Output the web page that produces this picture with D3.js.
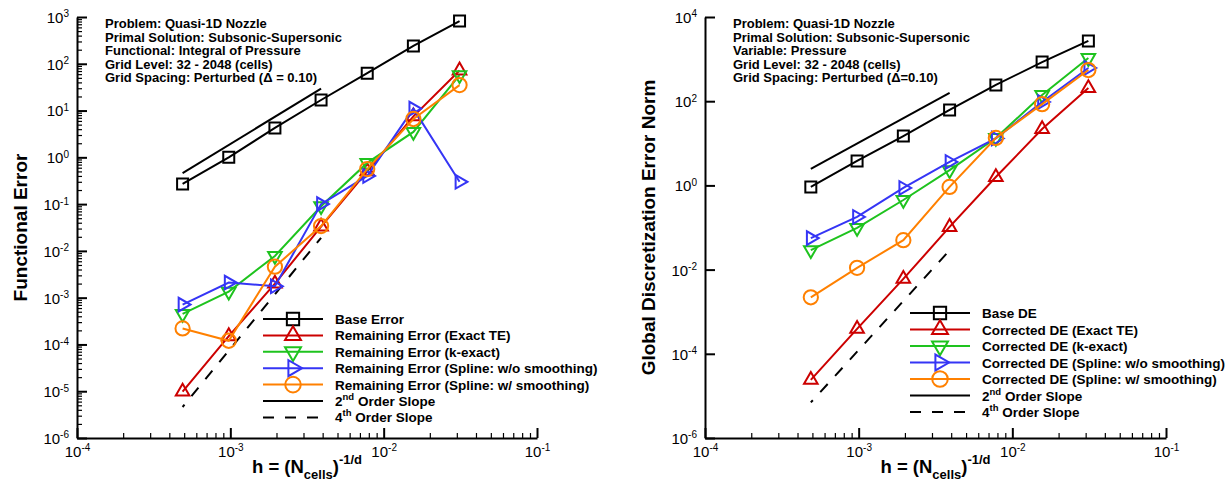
<!DOCTYPE html>
<html>
<head>
<meta charset="utf-8">
<script src="https://cdn.jsdelivr.net/npm/d3@7"></script>
<style>
body { margin: 0; background: #fff; }
text { font-family: "Liberation Sans", Arial, Helvetica, sans-serif; }
</style>
</head>
<body>
<script>
// grid spacing h = 1/N, N = 2048 ... 32 cells
const hValues = [1/2048, 1/1024, 1/512, 1/256, 1/128, 1/64, 1/32];
// the reference slope lines cover the three finest doublings
const slopeH = [1/2048, 1/256];

// left panel: functional error
const feBase           = [0.27, 1.0, 4.25, 16.8, 63, 240, 820];
const feExactTE        = [9.8e-6, 1.5e-4, 2.0e-3, 0.033, 0.5, 7.5, 72];
const feKExact         = [4.5e-4, 1.35e-3, 7.8e-3, 0.09, 0.76, 3.5, 57];
const feSplineNoSmooth = [7.1e-4, 2.1e-3, 1.75e-3, 0.1, 0.4, 11, 0.3];
const feSplineSmooth   = [2.2e-4, 1.2e-4, 4.6e-3, 0.034, 0.56, 6.6, 35];
const feSlope2 = [0.46, 29.5];
const feSlope4 = [4.6e-6, 0.019];
const feLabels = ["Base Error", "Remaining Error (Exact TE)", "Remaining Error (k-exact)",
  "Remaining Error (Spline: w/o smoothing)", "Remaining Error (Spline: w/ smoothing)"];
const feNotes = ["Problem: Quasi-1D Nozzle", "Primal Solution: Subsonic-Supersonic",
  "Functional: Integral of Pressure", "Grid Level: 32 - 2048 (cells)",
  "Grid Spacing: Perturbed (\u0394 = 0.10)"];

// right panel: global discretization error norm
const deBase           = [0.92, 3.8, 14.9, 62, 243, 850, 2700];
const deExactTE        = [2.4e-5, 3.9e-4, 6.0e-3, 0.103, 1.58, 21.8, 205];
const deKExact         = [0.029, 0.098, 0.45, 2.3, 13.4, 140, 1060];
const deSplineNoSmooth = [0.056, 0.178, 0.87, 3.6, 13, 96, 615];
const deSplineSmooth   = [2.2e-3, 0.011, 0.05, 0.92, 13.4, 85, 550];
const deSlope2 = [2.46, 157];
const deSlope4 = [7e-6, 0.0287];
const deLabels = ["Base DE", "Corrected DE (Exact TE)", "Corrected DE (k-exact)",
  "Corrected DE (Spline: w/o smoothing)", "Corrected DE (Spline: w/ smoothing)"];
const deNotes = ["Problem: Quasi-1D Nozzle", "Primal Solution: Subsonic-Supersonic",
  "Variable: Pressure", "Grid Level: 32 - 2048 (cells)",
  "Grid Spacing: Perturbed (\u0394=0.10)"];

const colors = ["#000000", "#cc0000", "#1ec31e", "#3535f5", "#ff8000"];
const markers = [
  {type: d3.symbolSquare, size: 121, rot: 0},
  {type: d3.symbolTriangle, size: 80, rot: 0},
  {type: d3.symbolTriangle, size: 80, rot: 180},
  {type: d3.symbolTriangle, size: 80, rot: 90},
  {type: d3.symbolCircle, size: 160, rot: 0}
];

let svg = d3.select("body").append("svg")
  .attr("width", 1231)
  .attr("height", 481);

// "10" with a raised exponent
function powLabel(sel) {
  sel.each(function(d) {
    let t = d3.select(this).text("");
    t.append("tspan").text("10");
    t.append("tspan").attr("dy", "-0.55em").attr("font-size", "10px")
      .text(Math.round(Math.log10(d)));
  });
}

function drawPanel(p) {
  let x = d3.scaleLog().domain([1e-4, 1e-1]).range([p.left, p.right]);
  let y = d3.scaleLog().domain(p.yDomain).range([p.bottom, p.top]);
  let g = svg.append("g");

  let decadesX = d3.range(-4, 0).map(e => Math.pow(10, e));
  let minorX = [];
  decadesX.slice(0, 3).forEach(b => d3.range(2, 10).forEach(m => minorX.push(b * m)));

  // x axis, ticks pointing inward
  g.append("g").attr("transform", `translate(0,${p.bottom})`)
    .call(d3.axisBottom(x).tickValues(minorX).tickSize(-5).tickSizeOuter(0).tickFormat(""))
    .call(a => a.select(".domain").remove())
    .call(a => a.selectAll("line").attr("stroke-width", 1.2));
  g.append("g").attr("transform", `translate(0,${p.bottom})`)
    .call(d3.axisBottom(x).tickValues(decadesX).tickSize(-10).tickSizeOuter(0).tickPadding(8))
    .call(a => a.select(".domain").attr("stroke-width", 2))
    .call(a => a.selectAll("line").attr("stroke-width", 2))
    .call(a => a.selectAll("text").attr("font-size", "15px").attr("font-family", null)
      .attr("text-anchor", "middle").call(powLabel));

  // y axis
  let decadesY = d3.range(Math.log10(p.yDomain[0]), Math.log10(p.yDomain[1]) + 1, p.yStep)
    .map(e => Math.pow(10, e));
  if (p.yMinor) {
    let minorY = [];
    decadesY.slice(0, -1).forEach(b => d3.range(2, 10).forEach(m => minorY.push(b * m)));
    g.append("g").attr("transform", `translate(${p.left},0)`)
      .call(d3.axisLeft(y).tickValues(minorY).tickSize(-5).tickSizeOuter(0).tickFormat(""))
      .call(a => a.select(".domain").remove())
      .call(a => a.selectAll("line").attr("stroke-width", 1.2));
  }
  g.append("g").attr("transform", `translate(${p.left},0)`)
    .call(d3.axisLeft(y).tickValues(decadesY).tickSize(-10).tickSizeOuter(0).tickPadding(8))
    .call(a => a.select(".domain").attr("stroke-width", 2))
    .call(a => a.selectAll("line").attr("stroke-width", 2))
    .call(a => a.selectAll("text").attr("font-size", "15px").attr("font-family", null)
      .attr("dy", "0.36em").call(powLabel));

  // slope guides
  let line = d3.line().x(d => x(d[0])).y(d => y(d[1]));
  g.append("path").datum(d3.zip(slopeH, p.slope2)).attr("d", line)
    .attr("fill", "none").attr("stroke", "#000").attr("stroke-width", 2);
  g.append("path").datum(d3.zip(slopeH, p.slope4)).attr("d", line)
    .attr("fill", "none").attr("stroke", "#000").attr("stroke-width", 2)
    .attr("stroke-dasharray", "11,11").attr("stroke-dashoffset", 8);

  // data series
  p.series.forEach((vals, i) => {
    let pts = d3.zip(hValues, vals);
    g.append("path").datum(pts).attr("d", line)
      .attr("fill", "none").attr("stroke", colors[i]).attr("stroke-width", 2);
    let sym = d3.symbol().type(markers[i].type).size(markers[i].size);
    g.selectAll(null).data(pts).enter().append("path")
      .attr("d", sym)
      .attr("transform", d => `translate(${x(d[0])},${y(d[1])}) rotate(${markers[i].rot})`)
      .attr("fill", "none").attr("stroke", colors[i]).attr("stroke-width", 2);
  });

  // annotation block
  g.append("g").selectAll("text").data(p.notes).enter().append("text")
    .attr("x", p.noteX).attr("y", (d, i) => 28 + i * 13.5)
    .attr("font-size", "13px").attr("font-weight", "bold")
    .text(d => d);

  // legend
  let leg = g.append("g");
  let rows = p.labels.map((l, i) => ({label: l, i: i}));
  rows.push({label: "2", sup: "nd", rest: " Order Slope", i: 5});
  rows.push({label: "4", sup: "th", rest: " Order Slope", i: 6});
  rows.forEach((r, k) => {
    let cy = p.legY + k * p.legStep;
    let ln = leg.append("line")
      .attr("x1", p.legX).attr("x2", p.legX + 60).attr("y1", cy).attr("y2", cy)
      .attr("stroke", r.i < 5 ? colors[r.i] : "#000").attr("stroke-width", 2);
    if (r.i === 6) ln.attr("stroke-dasharray", "11,11").attr("x2", p.legX + 59);
    if (r.i < 5) {
      leg.append("path").attr("d", d3.symbol().type(markers[r.i].type).size(markers[r.i].size + 30))
        .attr("transform", `translate(${p.legX + 30},${cy}) rotate(${markers[r.i].rot})`)
        .attr("fill", "none").attr("stroke", colors[r.i]).attr("stroke-width", 2);
    }
    let t = leg.append("text").attr("x", p.legX + 72).attr("y", cy + 5)
      .attr("font-size", "13.5px").attr("font-weight", "bold");
    t.append("tspan").text(r.label);
    if (r.sup) {
      t.append("tspan").attr("dy", -6).attr("font-size", "9.5px").text(r.sup);
      t.append("tspan").attr("dy", 6).text(r.rest);
    }
  });

  // axis titles
  g.append("text")
    .attr("transform", `translate(${p.yTitleX},${(p.top + p.bottom) / 2}) rotate(-90)`)
    .attr("text-anchor", "middle").attr("font-size", "19px").attr("font-weight", "bold")
    .text(p.yTitle);
  let xt = g.append("text").attr("x", (p.left + p.right) / 2).attr("y", 473)
    .attr("text-anchor", "middle").attr("font-size", "18.5px").attr("font-weight", "bold");
  xt.append("tspan").text("h = (N");
  xt.append("tspan").attr("dy", 6).attr("font-size", "13px").text("cells");
  xt.append("tspan").attr("dy", -6).text(")");
  xt.append("tspan").attr("dy", -9).attr("font-size", "13px").text("-1/d");
}

drawPanel({
  left: 77, right: 537, top: 17, bottom: 438,
  yDomain: [1e-6, 1e3], yStep: 1, yMinor: true,
  series: [feBase, feExactTE, feKExact, feSplineNoSmooth, feSplineSmooth],
  slope2: feSlope2, slope4: feSlope4,
  labels: feLabels, notes: feNotes, noteX: 105,
  legX: 263, legY: 319, legStep: 16.4,
  yTitle: "Functional Error", yTitleX: 27
});

drawPanel({
  left: 705, right: 1166, top: 17, bottom: 438,
  yDomain: [1e-6, 1e4], yStep: 2, yMinor: false,
  series: [deBase, deExactTE, deKExact, deSplineNoSmooth, deSplineSmooth],
  slope2: deSlope2, slope4: deSlope4,
  labels: deLabels, notes: deNotes, noteX: 733,
  legX: 910, legY: 313, legStep: 16.5,
  yTitle: "Global Discretization Error Norm", yTitleX: 655
});
</script>
</body>
</html>
